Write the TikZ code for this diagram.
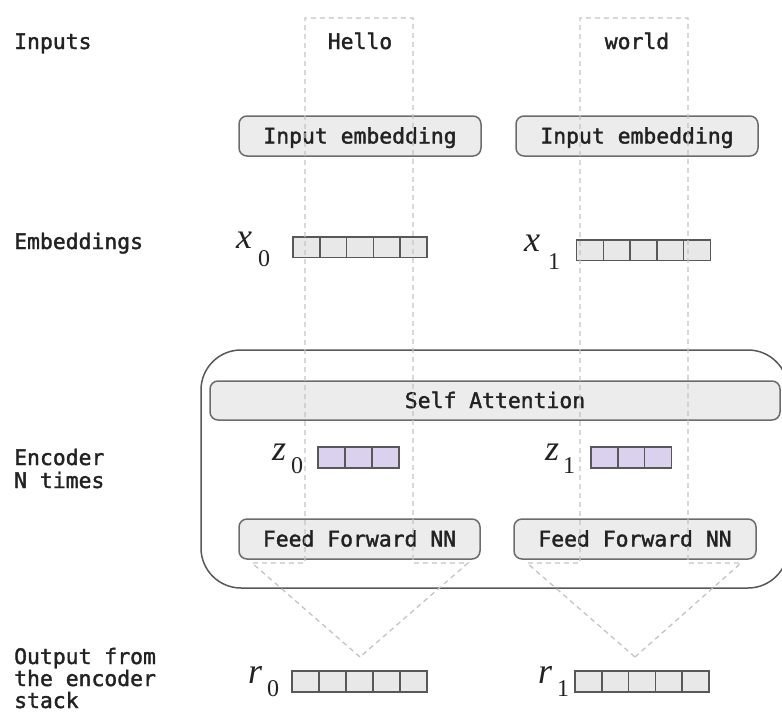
\documentclass[tikz,border=0pt]{standalone}
\usepackage{fontspec}
\newfontfamily\monofam[FakeBold=1.6]{DejaVu Sans Mono}
\newfontfamily\seriffam{Liberation Serif}
\definecolor{ink}{RGB}{34,34,34}
\definecolor{boxline}{RGB}{108,108,108}
\definecolor{boxfill}{RGB}{236,236,236}
\definecolor{cellline}{RGB}{88,88,88}
\definecolor{cellfill}{RGB}{232,232,232}
\definecolor{zfill}{RGB}{217,209,238}
\definecolor{guidegray}{RGB}{196,196,196}
\definecolor{frameline}{RGB}{88,88,88}
\begin{document}
\begin{tikzpicture}[x=1pt,y=-1pt,
  monotext/.style={font=\monofam\fontsize{21.4}{23}\selectfont, text=ink, inner sep=0pt},
  sidelabel/.style={monotext, anchor=base west},
  boxn/.style={monotext, draw=boxline, fill=boxfill, line width=1.5pt,
    rounded corners=8pt, text height=15pt, text depth=0pt},
  cell/.style={draw=cellline, fill=cellfill, line width=1.5pt,
    minimum width=26.8pt, minimum height=20.5pt, inner sep=0pt, outer sep=0pt,
    anchor=north west},
  zcell/.style={cell, fill=zfill, minimum width=27pt, minimum height=21pt},
  rcell/.style={cell, minimum width=27pt, minimum height=21pt},
  guide/.style={draw=guidegray, line width=1.3pt, dash pattern=on 5pt off 4pt},
  letter/.style={font=\seriffam\itshape\fontsize{36}{36}\selectfont, text=ink,
    inner sep=0pt, anchor=base west},
  idx/.style={font=\seriffam\fontsize{24}{24}\selectfont, text=ink,
    inner sep=0pt, anchor=base west}]

\useasboundingbox (0,0) rectangle (782,712);
\clip (0,0) rectangle (782,712);

% encoder frame (repeated N times)
\node[draw=frameline, line width=1.5pt, rounded corners=40pt, inner sep=0pt,
  minimum width=587pt, minimum height=238pt] (encoder) at (494.5,469) {};

% processing blocks
\node[boxn, minimum width=242pt, minimum height=40pt] (emb0) at (360,136) {Input embedding};
\node[boxn, minimum width=242pt, minimum height=40pt] (emb1) at (637,136) {Input embedding};
\node[boxn, minimum width=570pt, minimum height=39pt] (selfatt) at (495,400.5) {Self Attention};
\node[boxn, minimum width=241pt, minimum height=40pt] (ffn0) at (359.5,539) {Feed Forward NN};
\node[boxn, minimum width=242pt, minimum height=40pt] (ffn1) at (635,539) {Feed Forward NN};

% vectors
\foreach \i in {0,...,4} {
  \node[cell] (xa\i) at ({293+26.8*\i},237) {};
  \node[cell] (xb\i) at ({576.5+26.8*\i},240) {};
  \node[rcell] (ra\i) at ({292+27*\i},671) {};
  \node[rcell] (rb\i) at ({575+26.8*\i},671) {};
}
\foreach \i in {0,1,2} {
  \node[zcell] (za\i) at ({318+27*\i},447) {};
  \node[zcell] (zb\i) at ({591+26.8*\i},447) {};
}

% per-token guide paths
\coordinate (la) at (252,563);
\coordinate (lb) at (305,563);
\coordinate (lc) at (305,18);
\coordinate (ld) at (413,18);
\coordinate (le) at (413,563);
\coordinate (lf) at (468,563);
\coordinate (lapex) at (360,657);
\coordinate (ra) at (527,563);
\coordinate (rb) at (580,563);
\coordinate (rc) at (580,18);
\coordinate (rd) at (688,18);
\coordinate (re) at (688,563);
\coordinate (rf) at (741,563);
\coordinate (rapex) at (635,657);
\draw[guide] (lapex) -- (la) -- (lb) -- (lc) -- (ld) -- (le) -- (lf) -- cycle;
\draw[guide] (rapex) -- (ra) -- (rb) -- (rc) -- (rd) -- (re) -- (rf) -- cycle;

% tokens
\node[monotext, anchor=base] (hello) at (360,49) {Hello};
\node[monotext, anchor=base] (world) at (637,49) {world};

% vector names
\node[letter] (x0) at (236,248) {x};
\node[idx] (x0i) at (258,266) {0};
\node[letter] (x1) at (524,251) {x};
\node[idx] (x1i) at (548,269) {1};
\node[letter] (z0) at (272,460) {z};
\node[idx] (z0i) at (291,473) {0};
\node[letter] (z1) at (545,460) {z};
\node[idx] (z1i) at (563,473) {1};
\node[letter] (r0) at (248,683) {r};
\node[idx] (r0i) at (267,696) {0};
\node[letter] (r1) at (538,683) {r};
\node[idx] (r1i) at (557,696) {1};

% row captions
\node[sidelabel] (capin) at (14,49) {Inputs};
\node[sidelabel] (capemb) at (14,249) {Embeddings};
\node[sidelabel] (capenc) at (14,465) {Encoder};
\node[sidelabel] (capenc2) at (14,488) {N times};
\node[sidelabel] (capout) at (14,664) {Output from};
\node[sidelabel] (capout2) at (14,686) {the encoder};
\node[sidelabel] (capout3) at (14,708) {stack};
\end{tikzpicture}
\end{document}
